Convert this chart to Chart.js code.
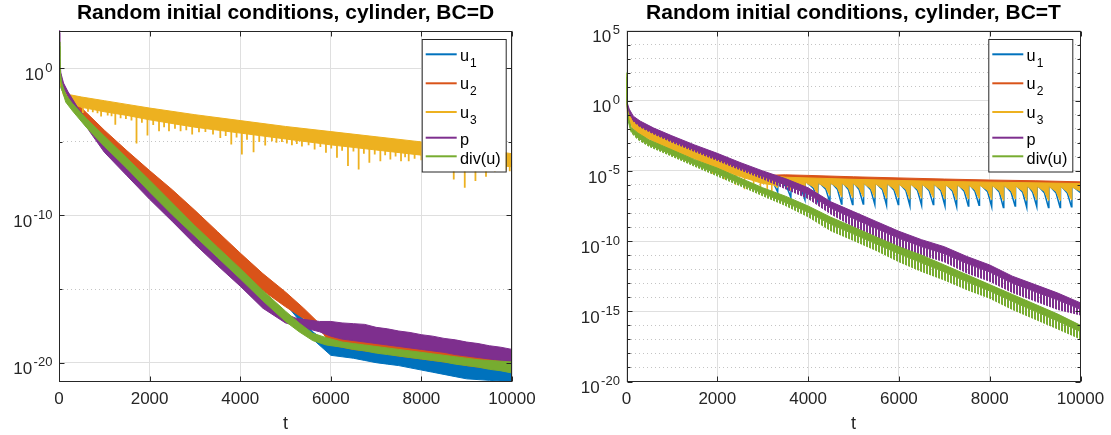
<!DOCTYPE html>
<html lang="en">
<head>
<meta charset="UTF-8">
<title>Random initial conditions, cylinder</title>
<script src="https://cdn.jsdelivr.net/npm/chart.js"></script>
<style>
  html, body { margin: 0; padding: 0; background: #fff; }
  #wrap { position: relative; width: 1111px; height: 435px; overflow: hidden; }
  canvas { position: absolute; top: 0; }
  #left { left: 0; }
  #right { left: 560px; }
</style>
</head>
<body>
<div id="wrap">
  <canvas id="left" width="560" height="435"></canvas>
  <canvas id="right" width="551" height="435"></canvas>
</div>
<script>
// ---------- labels / axes ----------
const seriesNames = ['u_1', 'u_2', 'u_3', 'p', 'div(u)'];
const titleD = 'Random initial conditions, cylinder, BC=D';
const titleT = 'Random initial conditions, cylinder, BC=T';
const xTicks = [0, 2000, 4000, 6000, 8000, 10000];
// y ticks are decades (log10 exponents)
const yGridD = [-20, -15, -10, -5, 0];
const yMajorD = [-20, -10, 0];
const yRangeD = [-21.28, 2.57];
const yGridT = [-20, -19, -18, -17, -16, -15, -14, -13, -12, -11, -10, -9, -8, -7, -6, -5, -4, -3, -2, -1, 0, 1, 2, 3, 4, 5];
const yMajorT = [-20, -15, -10, -5, 0, 5];
const yRangeT = [-20, 5];

// ---------- BC=D (left), all values are log10 ----------
// bands: upper / lower edge of each oscillating curve
const dU1T  = [0, 50, 150, 300, 600, 1000, 1500, 2000, 2500, 3000, 3500, 4000, 4500, 5000, 5350, 5600, 6000, 6250, 6500, 6750, 7000, 7250, 7500, 7750, 8000, 8250, 8500, 8750, 9000, 9250, 9500, 9750, 10000];
const dU1Hi = [-0.4, -1.2, -1.8, -2.3, -3.2, -4.5, -6.0, -7.4, -8.8, -10.3, -11.8, -13.2, -14.6, -15.8, -16.9, -17.9, -18.8, -18.9, -19.0, -19.05, -19.1, -19.25, -19.4, -19.5, -19.6, -19.7, -19.8, -19.95, -20.1, -20.25, -20.4, -20.55, -20.7];
const dU1Lo = [-0.6, -1.4, -2.0, -2.5, -3.4, -4.8, -6.3, -7.7, -9.1, -10.6, -12.1, -13.5, -14.9, -16.0, -17.3, -18.4, -19.5, -19.6, -19.7, -19.85, -20.0, -20.1, -20.2, -20.35, -20.5, -20.65, -20.8, -20.95, -21.1, -21.15, -21.2, -21.25, -21.3];

const dU2T  = [0, 50, 150, 300, 600, 1000, 1500, 2000, 2500, 3000, 3500, 4000, 4500, 5000, 5400, 5700, 5850, 6000, 6250, 6500, 6750, 7000, 7250, 7500, 7750, 8000, 8250, 8500, 8750, 9000, 9250, 9500, 9750, 10000];
const dU2Hi = [-0.3, -1.1, -1.7, -2.1, -3.0, -4.2, -5.6, -6.95, -8.25, -9.65, -11.1, -12.55, -13.95, -15.2, -16.3, -17.2, -17.7, -18.1, -18.0, -18.3, -18.2, -18.5, -18.4, -18.7, -18.6, -18.9, -18.8, -19.0, -19.1, -19.3, -19.2, -19.5, -19.5, -19.7];
const dU2Lo = [-0.6, -1.3, -1.9, -2.4, -3.5, -4.9, -6.4, -7.9, -9.3, -10.8, -12.3, -13.8, -15.1, -16.2, -17.0, -17.6, -18.1, -18.8, -18.95, -19.1, -19.2, -19.3, -19.4, -19.55, -19.65, -19.75, -19.85, -19.95, -20.05, -20.2, -20.3, -20.4, -20.5, -20.6];

const dU3T  = [0, 30, 100, 250, 500, 1000, 1500, 2000, 3000, 4000, 5000, 6000, 7000, 8000, 9000, 10000];
const dU3Hi = [0.3, -0.8, -1.5, -1.8, -1.95, -2.2, -2.45, -2.7, -3.15, -3.55, -3.95, -4.3, -4.65, -5.0, -5.4, -5.8];
const dU3Lo = [0.1, -1.1, -1.85, -2.4, -2.65, -2.95, -3.2, -3.5, -4.0, -4.4, -4.8, -5.2, -5.55, -5.9, -6.3, -6.7];
// downward spikes of u3
const dU3SpikeT = [
  380, 527, 640, 746, 850, 929, 1075, 1160, 1243, 1360,
  1477, 1600, 1711, 1830, 1953, 2080, 2208, 2320, 2428, 2560,
  2684, 2810, 2940, 3090, 3232, 3400, 3561, 3680, 3803, 3920,
  4037, 4150, 4295, 4420, 4552, 4700, 4800, 4921, 5030, 5142,
  5250, 5363, 5510, 5643, 5770, 5893, 6010, 6136, 6250, 6379,
  6500, 6615, 6730, 6851, 6970, 7094, 7200, 7315, 7430, 7550,
  7640, 7720, 7850, 8000, 8130, 8250, 8360, 8471, 8590, 8714,
  8840, 8957, 9080, 9193, 9310, 9426, 9530, 9622, 9740, 9858,
  9950];
const dU3SpikeTop = [
  -2.25, -2.42, -2.45, -2.55, -2.62, -2.67, -2.74, -2.78, -2.82, -2.88,
  -2.94, -3.01, -3.07, -3.15, -3.22, -3.29, -3.35, -3.41, -3.46, -3.53,
  -3.59, -3.65, -3.72, -3.79, -3.85, -3.91, -3.97, -4.02, -4.07, -4.12,
  -4.16, -4.21, -4.27, -4.32, -4.37, -4.43, -4.47, -4.52, -4.56, -4.61,
  -4.65, -4.70, -4.75, -4.81, -4.85, -4.91, -4.95, -5.00, -5.04, -5.08,
  -5.13, -5.17, -5.21, -5.25, -5.29, -5.33, -5.37, -5.41, -5.45, -5.49,
  -5.52, -5.55, -5.60, -5.65, -5.70, -5.75, -5.79, -5.84, -5.89, -5.94,
  -5.99, -6.03, -6.08, -6.13, -6.17, -6.22, -6.26, -6.30, -6.35, -6.39,
  -6.43];
const dU3SpikeLow = [
  -2.75, -3.04, -2.95, -2.98, -3.05, -3.27, -3.2, -3.25, -3.83, -3.4,
  -3.45, -3.55, -5.11, -3.7, -4.57, -3.85, -4.28, -4.0, -4.28, -4.1,
  -4.28, -4.2, -4.50, -4.35, -4.33, -4.5, -4.73, -4.6, -5.18, -4.7,
  -5.85, -4.85, -5.70, -5.0, -5.25, -4.95, -5.05, -5.0, -5.1, -5.22,
  -5.15, -5.32, -5.22, -5.52, -5.35, -5.74, -5.45, -6.08, -5.6, -6.64,
  -5.65, -6.87, -5.8, -6.41, -5.85, -6.31, -5.9, -6.19, -6.0, -6.31,
  -6.05, -6.31, -6.15, -6.25, -6.35, -6.3, -6.45, -6.98, -6.5, -7.55,
  -6.6, -8.11, -6.65, -7.66, -6.75, -7.36, -6.85, -7.02, -6.9, -6.95,
  -7.0];

const dPT  = [0, 15, 40, 100, 200, 400, 700, 1000, 1500, 2000, 2500, 3000, 3500, 4000, 4500, 5000, 5250, 5500, 5750, 6000, 6250, 6500, 6750, 7000, 7250, 7500, 7750, 8000, 8250, 8500, 8750, 9000, 9250, 9500, 9750, 10000];
const dPHi = [2.6, 0.8, -0.3, -1.0, -1.6, -2.6, -3.9, -5.2, -6.8, -8.2, -9.7, -11.25, -12.7, -14.1, -15.6, -16.7, -17.0, -17.1, -17.2, -17.2, -17.3, -17.35, -17.4, -17.6, -17.7, -17.85, -17.95, -18.1, -18.2, -18.35, -18.45, -18.6, -18.7, -18.85, -18.95, -19.1];
const dPLo = [2.4, 0.5, -0.5, -1.3, -1.9, -3.0, -4.4, -5.7, -7.3, -8.9, -10.4, -11.95, -13.4, -14.8, -16.3, -17.3, -17.5, -17.7, -17.9, -18.2, -18.4, -18.5, -18.6, -18.7, -18.8, -18.9, -19.0, -19.1, -19.2, -19.3, -19.45, -19.55, -19.65, -19.75, -19.85, -19.95];

const dDivT  = [0, 20, 60, 150, 300, 600, 1000, 1500, 2000, 2500, 3000, 3500, 4000, 4500, 5000, 5300, 5600, 5900, 6250, 6500, 6750, 7000, 7250, 7500, 7750, 8000, 8250, 8500, 8750, 9000, 9250, 9500, 9750, 10000];
const dDivHi = [1.8, 0.0, -1.0, -1.8, -2.4, -3.4, -4.6, -6.1, -7.6, -9.15, -10.7, -12.15, -13.6, -15.1, -16.5, -17.3, -18.0, -18.3, -18.6, -18.7, -18.8, -18.9, -19.0, -19.1, -19.2, -19.3, -19.4, -19.5, -19.6, -19.7, -19.8, -19.85, -19.9, -19.95];
const dDivLo = [1.5, -0.4, -1.4, -2.3, -2.9, -4.0, -5.3, -6.8, -8.4, -9.95, -11.4, -12.85, -14.3, -15.8, -17.2, -17.9, -18.5, -18.8, -18.95, -19.1, -19.2, -19.35, -19.45, -19.55, -19.65, -19.75, -19.85, -19.95, -20.1, -20.2, -20.3, -20.45, -20.55, -20.7];

// ---------- BC=T (right), log10 ----------
const tEarlyT  = [0, 15, 50, 150, 300, 600, 1000, 1500, 2000, 2500, 3000];
const tU1Early = [1.2, -0.4, -1.0, -1.55, -1.9, -2.35, -2.95, -3.6, -4.25, -4.85, -5.35];
// saw teeth of u1 / u3 after t = 3200 (start, middle, tip of each tooth)
const toothT = [3240, 3330,
  3340, 3530, 3620,  3630, 3840, 3930,  3940, 4120, 4210,  4220, 4390, 4480,  4490, 4645, 4735,
  4745, 4888, 4978,  4988, 5123, 5213,  5223, 5380, 5470,  5480, 5638, 5728,  5738, 5895, 5985,
  5995, 6153, 6243,  6253, 6410, 6500,  6510, 6667, 6757,  6767, 6925, 7015,  7025, 7182, 7272,
  7282, 7439, 7529,  7539, 7675, 7765,  7775, 7954, 8044,  8054, 8211, 8301,  8311, 8469, 8559,
  8569, 8726, 8816,  8826, 8947, 9037,  9047, 9204, 9294,  9304, 9460, 9550,  9560, 9710, 9800,
  9810, 10000];
const tU1Tooth = [-5.9, -6.5,
  -5.65, -6.15, -6.9,  -5.7, -6.2, -7.05,  -5.7, -6.25, -7.15,  -5.75, -6.3, -7.25,  -5.75, -6.3, -7.35,
  -5.78, -6.32, -7.4,  -5.78, -6.32, -7.35,  -5.8, -6.35, -7.4,  -5.82, -6.35, -7.45,  -5.82, -6.38, -7.4,
  -5.85, -6.4, -7.5,  -5.85, -6.4, -7.45,  -5.87, -6.42, -7.4,  -5.87, -6.42, -7.5,  -5.9, -6.45, -7.55,
  -5.9, -6.45, -7.5,  -5.92, -6.45, -7.45,  -5.92, -6.48, -7.55,  -5.95, -6.5, -7.6,  -5.95, -6.5, -7.5,
  -5.98, -6.52, -7.6,  -5.98, -6.52, -7.55,  -6.0, -6.55, -7.6,  -6.02, -6.55, -7.6,  -6.02, -6.58, -7.55,
  -6.05, -6.55];

const tU2T  = [0, 15, 50, 150, 300, 600, 1000, 1500, 2000, 2500, 3000, 3250, 3500, 4000, 5000, 6000, 7000, 8000, 9000, 10000];
const tU2Hi = [1.0, -0.3, -0.9, -1.4, -1.75, -2.2, -2.75, -3.4, -4.05, -4.65, -5.1, -5.3, -5.28, -5.32, -5.42, -5.5, -5.58, -5.65, -5.7, -5.78];
const tU2Lo = [0.8, -0.5, -1.1, -1.6, -1.95, -2.4, -3.0, -3.65, -4.3, -4.9, -5.3, -5.5, -5.48, -5.52, -5.62, -5.7, -5.78, -5.85, -5.9, -5.98];

const tU3HiT = [0, 15, 50, 150, 300, 600, 1000, 1500, 2000, 2500, 3000, 3500, 4000, 5000, 6000, 7000, 8000, 9000, 10000];
const tU3Hi  = [1.9, -0.4, -1.0, -1.5, -1.85, -2.3, -2.9, -3.55, -4.2, -4.8, -5.25, -5.45, -5.5, -5.6, -5.68, -5.75, -5.8, -5.85, -5.9];
const tU3LoEarlyT = [0, 15, 50, 150, 300, 600, 1000, 1500, 2000, 2400, 2700, 3000];
const tU3LoEarly  = [1.5, -0.8, -1.5, -2.0, -2.4, -2.9, -3.5, -4.15, -4.8, -5.3, -5.6, -5.9];
const tU3Tooth = [-6.0, -6.2,
  -5.75, -6.05, -6.4,  -5.8, -6.1, -6.55,  -5.8, -6.15, -6.65,  -5.85, -6.2, -6.75,  -5.85, -6.2, -6.85,
  -5.88, -6.22, -6.9,  -5.88, -6.22, -6.85,  -5.9, -6.25, -6.9,  -5.92, -6.25, -6.95,  -5.92, -6.28, -6.9,
  -5.95, -6.3, -7.0,  -5.95, -6.3, -6.95,  -5.97, -6.32, -6.9,  -5.97, -6.32, -7.0,  -6.0, -6.35, -7.05,
  -6.0, -6.35, -7.0,  -6.02, -6.35, -6.95,  -6.02, -6.38, -7.05,  -6.05, -6.4, -7.1,  -6.05, -6.4, -7.0,
  -6.08, -6.42, -7.1,  -6.08, -6.42, -7.05,  -6.1, -6.45, -7.1,  -6.12, -6.45, -7.1,  -6.12, -6.48, -7.05,
  -6.15, -6.45];
const tU3SpikeT   = [400, 700, 1000, 1300, 1600, 1900, 2150, 2400, 2600, 2800, 2950, 3100, 3200];
const tU3SpikeTop = [-2.5, -3.0, -3.45, -3.85, -4.2, -4.6, -4.9, -5.2, -5.45, -5.65, -5.8, -5.9, -5.95];
const tU3SpikeLow = [-2.9, -3.4, -3.9, -4.3, -4.8, -5.2, -5.6, -6.0, -6.3, -6.1, -6.55, -6.4, -6.6];

// p and div(u): upper edge, solid core edge, lower edge of the comb of spikes
const tPT   = [0, 20, 60, 150, 300, 600, 1000, 1500, 2000, 2500, 3000, 3500, 4000, 4500, 5000, 5500, 6000, 6500, 7000, 7500, 8000, 8500, 9000, 9500, 10000];
const tPHi  = [0.3, -0.2, -0.6, -1.1, -1.45, -1.95, -2.5, -3.15, -3.75, -4.4, -5.0, -5.55, -6.2, -7.2, -7.9, -8.6, -9.3, -9.9, -10.4, -11.1, -11.7, -12.5, -13.1, -13.7, -14.4];
const tPMid = [0.1, -0.45, -0.85, -1.4, -1.8, -2.3, -2.85, -3.5, -4.15, -4.8, -5.4, -6.0, -6.65, -7.65, -8.4, -9.1, -9.8, -10.4, -10.9, -11.6, -12.2, -13.0, -13.6, -14.2, -14.85];
const tPLo  = [0.0, -0.5, -0.9, -1.5, -1.9, -2.4, -3.0, -3.65, -4.3, -4.95, -5.6, -6.3, -7.0, -8.1, -9.0, -9.7, -10.5, -11.0, -11.5, -12.3, -12.9, -13.7, -14.3, -14.9, -15.3];

const tDivT   = [0, 10, 40, 100, 250, 500, 1000, 1500, 2000, 2500, 3000, 3500, 4000, 4500, 5000, 5500, 6000, 6500, 7000, 7500, 8000, 8500, 9000, 9500, 10000];
const tDivHi  = [2.0, 0.0, -1.2, -1.9, -2.3, -2.8, -3.5, -4.2, -4.8, -5.5, -6.2, -6.8, -7.5, -8.3, -9.0, -9.7, -10.4, -11.0, -11.7, -12.4, -13.1, -13.8, -14.5, -15.2, -16.0];
const tDivMid = [1.7, -0.3, -1.5, -2.2, -2.65, -3.15, -3.85, -4.55, -5.2, -5.9, -6.6, -7.25, -7.95, -8.8, -9.5, -10.2, -10.9, -11.55, -12.2, -12.9, -13.55, -14.3, -15.0, -15.7, -16.45];
const tDivLo  = [1.6, -0.5, -1.6, -2.3, -2.8, -3.3, -4.0, -4.7, -5.4, -6.1, -6.8, -7.5, -8.3, -9.3, -10.0, -10.7, -11.5, -12.2, -12.8, -13.5, -14.1, -14.9, -15.6, -16.3, -17.0];

// ---------- style ----------
const FONT = "'Liberation Sans', Arial, Helvetica, sans-serif";
const AXIS = '#262626';
const COLORS = ['#0072BD', '#D95319', '#EDB120', '#7E2F8E', '#77AC30'];
const [cU1, cU2, cU3, cP, cDiv] = COLORS;
const legendRows = [
  { line: 54.3, base: 60.7 },
  { line: 83.3, base: 89.3 },
  { line: 112, base: 118 },
  { line: 137.7, base: 145.3 },
  { line: 156.3, base: 164.4 }
];

function pts(ts, logs) {
  return ts.map((t, i) => ({ x: t, y: Math.pow(10, logs[i]) }));
}
function spikes(ts, tops, lows) {
  const out = [];
  ts.forEach((t, i) => {
    out.push({ x: t, y: Math.pow(10, tops[i]) }, { x: t, y: Math.pow(10, lows[i]) }, { x: t, y: null });
  });
  return out;
}
function line(data, color, order, extra) {
  return Object.assign({ data, borderColor: color, borderWidth: 1, pointRadius: 0, tension: 0, fill: false, order }, extra || {});
}
function stripes(canvasId, color) {
  const c = document.createElement('canvas');
  c.width = 3; c.height = 4;
  const g = c.getContext('2d');
  g.fillStyle = color;
  g.fillRect(0, 0, 2, 4);
  return document.getElementById(canvasId).getContext('2d').createPattern(c, 'repeat');
}

function framePlugin(cfg) {
  return {
    id: 'matlabFrame',
    afterDraw(chart) {
      const { ctx, chartArea: a } = chart;
      const x = chart.scales.x, y = chart.scales.y;
      const L = Math.round(a.left) + 0.5, R = Math.round(a.right) - 0.5;
      const T = Math.round(a.top) + 0.5, B = Math.round(a.bottom) - 0.5;
      ctx.save();
      // inner tick marks
      ctx.strokeStyle = AXIS;
      ctx.lineWidth = 1;
      ctx.beginPath();
      xTicks.forEach(v => {
        const px = Math.round(x.getPixelForValue(v)) + 0.5;
        ctx.moveTo(px, B); ctx.lineTo(px, B - 5);
        ctx.moveTo(px, T); ctx.lineTo(px, T + 5);
      });
      cfg.yGrid.forEach(e => {
        const py = Math.round(y.getPixelForValue(Math.pow(10, e))) + 0.5;
        const len = cfg.yMajor.includes(e) ? 5 : 3;
        ctx.moveTo(L, py); ctx.lineTo(L + len, py);
        ctx.moveTo(R, py); ctx.lineTo(R - len, py);
      });
      ctx.stroke();
      ctx.strokeRect(L, T, R - L, B - T);

      // y tick labels 10^e
      ctx.fillStyle = AXIS;
      ctx.textAlign = 'right';
      ctx.textBaseline = 'alphabetic';
      cfg.yMajor.forEach(e => {
        const py = y.getPixelForValue(Math.pow(10, e));
        const xr = a.left - 6.6;
        const es = String(e);
        ctx.font = '13px ' + FONT;
        ctx.fillText(es, xr, py + 3.5);
        const w = ctx.measureText(es).width;
        ctx.font = '17px ' + FONT;
        ctx.fillText('10', xr - w - 1.5, py + 11.7);
      });

      // legend
      const bx = cfg.legendX, by = 39, bw = 84, bh = 132.5;
      ctx.fillStyle = '#fff';
      ctx.fillRect(bx, by, bw, bh);
      ctx.strokeStyle = AXIS;
      ctx.lineWidth = 1;
      ctx.strokeRect(bx + 0.5, by + 0.5, bw, bh);
      ctx.textAlign = 'left';
      seriesNames.forEach((name, i) => {
        const r = legendRows[i];
        ctx.strokeStyle = COLORS[i];
        ctx.lineWidth = 2;
        ctx.beginPath();
        ctx.moveTo(bx + 4, r.line); ctx.lineTo(bx + 35, r.line);
        ctx.stroke();
        const [base, sub] = name.split('_');
        ctx.fillStyle = '#000';
        ctx.font = '16.3px ' + FONT;
        ctx.fillText(base, bx + 38.3, r.base);
        if (sub) {
          const w = ctx.measureText(base).width;
          ctx.font = '12px ' + FONT;
          ctx.fillText(sub, bx + 38.3 + w + 1, r.base + 6);
        }
      });
      ctx.restore();
    }
  };
}

function makeChart(id, datasets, cfg) {
  const isMajor = c => c.tick && cfg.yMajor.includes(Math.round(Math.log10(c.tick.value)));
  return new Chart(document.getElementById(id), {
    type: 'line',
    data: { datasets },
    options: {
      responsive: false,
      animation: false,
      devicePixelRatio: 1,
      events: [],
      layout: { padding: { left: 0, right: cfg.padRight, top: 0, bottom: 0 } },
      plugins: {
        legend: { display: false },
        tooltip: { enabled: false },
        title: {
          display: true, text: cfg.title, color: '#000', fullSize: false,
          font: { family: FONT, size: 21, weight: 'bold' },
          padding: { top: 1.1, bottom: 4.2 }
        }
      },
      scales: {
        x: {
          type: 'linear', min: 0, max: 10000,
          ticks: { stepSize: 2000, autoSkip: false, maxRotation: 0, padding: 8, color: AXIS,
                   font: { family: FONT, size: 17 }, callback: v => String(v) },
          grid: { color: '#dfdfdf', drawTicks: false },
          border: { display: false },
          title: { display: true, text: 't', color: AXIS, font: { family: FONT, size: 18 }, padding: 0 },
          afterFit(s) { s.height = 53.5; s.paddingLeft = 0; s.paddingRight = 0; }
        },
        y: {
          type: 'logarithmic', bounds: 'data',
          min: Math.pow(10, cfg.yRange[0]), max: Math.pow(10, cfg.yRange[1]),
          ticks: { display: false },
          afterBuildTicks(s) { s.ticks = cfg.yGrid.map(e => ({ value: Math.pow(10, e) })); },
          grid: { color: c => isMajor(c) ? '#dfdfdf' : '#c4c4c4', drawTicks: false },
          border: { display: false, dash: c => (c.tick && !isMajor(c)) ? [1, 3] : [] },
          afterFit(s) { s.width = cfg.yWidth; s.paddingTop = 0; s.paddingBottom = 0; }
        }
      }
    },
    plugins: [framePlugin(cfg)]
  });
}

// ---------- left: BC=D ----------
const dsD = [
  line(pts(dU1T, dU1Hi), cU1, 5),
  line(pts(dU1T, dU1Lo), cU1, 5, { fill: '-1', backgroundColor: cU1 }),
  line(pts(dU2T, dU2Hi), cU2, 4),
  line(pts(dU2T, dU2Lo), cU2, 4, { fill: '-1', backgroundColor: cU2 }),
  line(pts(dU3T, dU3Hi), cU3, 3),
  line(pts(dU3T, dU3Lo), cU3, 3, { fill: '-1', backgroundColor: cU3 }),
  line(spikes(dU3SpikeT, dU3SpikeTop, dU3SpikeLow), cU3, 3, { borderWidth: 1.8, spanGaps: false }),
  line(pts(dPT, dPHi), cP, 2),
  line(pts(dPT, dPLo), cP, 2, { fill: '-1', backgroundColor: cP }),
  line(pts(dDivT, dDivHi), cDiv, 1),
  line(pts(dDivT, dDivLo), cDiv, 1, { fill: '-1', backgroundColor: cDiv })
];
makeChart('left', dsD, {
  title: titleD, yRange: yRangeD, yGrid: yGridD, yMajor: yMajorD,
  yWidth: 59, padRight: 48, legendX: 421.7
});

// ---------- right: BC=T ----------
const dsT = [
  line(pts(tEarlyT.concat(toothT), tU1Early.concat(tU1Tooth)), cU1, 5, { borderWidth: 1.5 }),
  line(pts(tU2T, tU2Hi), cU2, 4),
  line(pts(tU2T, tU2Lo), cU2, 4, { fill: '-1', backgroundColor: cU2 }),
  line(pts(tU3HiT, tU3Hi), cU3, 3),
  line(pts(tU3LoEarlyT.concat(toothT), tU3LoEarly.concat(tU3Tooth)), cU3, 3, { fill: '-1', backgroundColor: cU3 }),
  line(spikes(tU3SpikeT, tU3SpikeTop, tU3SpikeLow), cU3, 3, { borderWidth: 1.6, spanGaps: false }),
  line(pts(tPT, tPHi), cP, 2),
  line(pts(tPT, tPMid), cP, 2, { fill: '-1', backgroundColor: cP }),
  line(pts(tPT, tPLo), cP, 2, { fill: '-1', backgroundColor: stripes('right', cP), borderWidth: 0 }),
  line(pts(tDivT, tDivHi), cDiv, 1),
  line(pts(tDivT, tDivMid), cDiv, 1, { fill: '-1', backgroundColor: cDiv }),
  line(pts(tDivT, tDivLo), cDiv, 1, { fill: '-1', backgroundColor: stripes('right', cDiv), borderWidth: 0 })
];
makeChart('right', dsT, {
  title: titleT, yRange: yRangeT, yGrid: yGridT, yMajor: yMajorT,
  yWidth: 66.5, padRight: 30.5, legendX: 428.3
});
</script>
</body>
</html>
